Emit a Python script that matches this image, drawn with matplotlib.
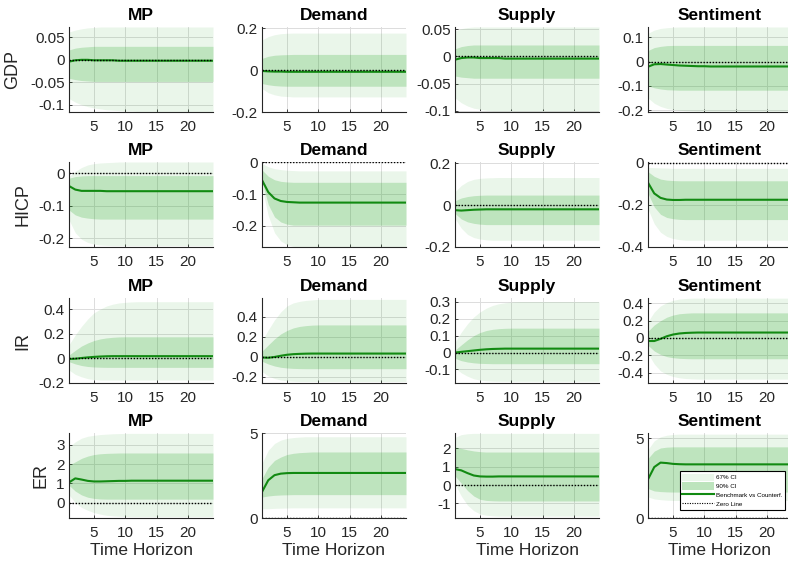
"""Impulse responses (benchmark vs counterfactual) with 67/90 bands, 4x4 grid."""
import numpy as np
import matplotlib
matplotlib.use("Agg")
import matplotlib.pyplot as plt
from matplotlib.patches import Patch
from matplotlib.lines import Line2D

plt.rcParams["font.family"] = ["Liberation Sans", "DejaVu Sans"]
plt.rcParams["axes.unicode_minus"] = False

SHOCKS = ["MP", "Demand", "Supply", "Sentiment"]
VARIABLES = ["GDP", "HICP", "IR", "ER"]
H_MAX = 24

# ---- GDP ----
GDP_MED = [
    [-0.004, -0.001, 0.0, 0.0, -0.001, -0.001, -0.001, -0.001, -0.002, -0.002, -0.002, -0.002,
     -0.002, -0.002, -0.002, -0.002, -0.002, -0.002, -0.002, -0.002, -0.002, -0.002, -0.002, -0.002],
    [-0.004, -0.006, -0.007, -0.007, -0.008, -0.008, -0.008, -0.008, -0.008, -0.008, -0.008, -0.008,
     -0.008, -0.008, -0.008, -0.008, -0.008, -0.008, -0.008, -0.008, -0.008, -0.008, -0.008, -0.008],
    [-0.006, -0.003, -0.002, -0.002, -0.003, -0.003, -0.003, -0.003, -0.004, -0.004, -0.004, -0.004,
     -0.004, -0.004, -0.004, -0.004, -0.004, -0.004, -0.004, -0.004, -0.004, -0.004, -0.004, -0.004],
    [-0.021, -0.011, -0.010, -0.012, -0.014, -0.016, -0.017, -0.018, -0.019, -0.019, -0.020, -0.020,
     -0.020, -0.020, -0.020, -0.020, -0.020, -0.020, -0.020, -0.020, -0.020, -0.020, -0.020, -0.020],
]
GDP_HI90 = [
    [0.062, 0.066, 0.069, 0.071, 0.072, 0.073, 0.073, 0.073, 0.073, 0.073, 0.073, 0.073,
     0.073, 0.073, 0.073, 0.073, 0.073, 0.073, 0.073, 0.073, 0.073, 0.073, 0.073, 0.073],
    [0.144, 0.160, 0.169, 0.174, 0.176, 0.177, 0.177, 0.177, 0.177, 0.177, 0.177, 0.177,
     0.177, 0.177, 0.177, 0.177, 0.177, 0.177, 0.177, 0.177, 0.177, 0.177, 0.177, 0.177],
    [0.047, 0.051, 0.053, 0.054, 0.054, 0.054, 0.054, 0.054, 0.054, 0.054, 0.054, 0.054,
     0.054, 0.054, 0.054, 0.054, 0.054, 0.054, 0.054, 0.054, 0.054, 0.054, 0.054, 0.054],
    [0.117, 0.130, 0.137, 0.140, 0.142, 0.143, 0.143, 0.143, 0.143, 0.143, 0.143, 0.143,
     0.143, 0.143, 0.143, 0.143, 0.143, 0.143, 0.143, 0.143, 0.143, 0.143, 0.143, 0.143],
]
GDP_LO90 = [
    [-0.086, -0.094, -0.100, -0.104, -0.107, -0.109, -0.111, -0.112, -0.113, -0.114, -0.114, -0.115,
     -0.115, -0.115, -0.115, -0.115, -0.115, -0.115, -0.115, -0.115, -0.115, -0.115, -0.115, -0.115],
    [-0.088, -0.108, -0.118, -0.124, -0.126, -0.128, -0.128, -0.128, -0.128, -0.128, -0.128, -0.128,
     -0.128, -0.128, -0.128, -0.128, -0.128, -0.128, -0.128, -0.128, -0.128, -0.128, -0.128, -0.128],
    [-0.076, -0.085, -0.091, -0.095, -0.097, -0.099, -0.100, -0.100, -0.100, -0.100, -0.100, -0.100,
     -0.100, -0.100, -0.100, -0.100, -0.100, -0.100, -0.100, -0.100, -0.100, -0.100, -0.100, -0.100],
    [-0.150, -0.172, -0.185, -0.193, -0.198, -0.201, -0.203, -0.204, -0.205, -0.205, -0.205, -0.205,
     -0.205, -0.205, -0.205, -0.205, -0.205, -0.205, -0.205, -0.205, -0.205, -0.205, -0.205, -0.205],
]
GDP_HI67 = [
    [0.022, 0.026, 0.028, 0.029, 0.030, 0.030, 0.030, 0.030, 0.030, 0.030, 0.030, 0.030,
     0.030, 0.030, 0.030, 0.030, 0.030, 0.030, 0.030, 0.030, 0.030, 0.030, 0.030, 0.030],
    [0.056, 0.066, 0.071, 0.073, 0.074, 0.075, 0.075, 0.075, 0.075, 0.075, 0.075, 0.075,
     0.075, 0.075, 0.075, 0.075, 0.075, 0.075, 0.075, 0.075, 0.075, 0.075, 0.075, 0.075],
    [0.014, 0.018, 0.020, 0.021, 0.021, 0.021, 0.021, 0.021, 0.021, 0.021, 0.021, 0.021,
     0.021, 0.021, 0.021, 0.021, 0.021, 0.021, 0.021, 0.021, 0.021, 0.021, 0.021, 0.021],
    [0.046, 0.058, 0.063, 0.066, 0.067, 0.067, 0.067, 0.067, 0.067, 0.067, 0.067, 0.067,
     0.067, 0.067, 0.067, 0.067, 0.067, 0.067, 0.067, 0.067, 0.067, 0.067, 0.067, 0.067],
]
GDP_LO67 = [
    [-0.041, -0.044, -0.046, -0.047, -0.048, -0.048, -0.048, -0.048, -0.048, -0.048, -0.048, -0.048,
     -0.048, -0.048, -0.048, -0.048, -0.048, -0.048, -0.048, -0.048, -0.048, -0.048, -0.048, -0.048],
    [-0.064, -0.070, -0.074, -0.076, -0.077, -0.077, -0.077, -0.077, -0.077, -0.077, -0.077, -0.077,
     -0.077, -0.077, -0.077, -0.077, -0.077, -0.077, -0.077, -0.077, -0.077, -0.077, -0.077, -0.077],
    [-0.036, -0.038, -0.039, -0.040, -0.040, -0.040, -0.040, -0.040, -0.040, -0.040, -0.040, -0.040,
     -0.040, -0.040, -0.040, -0.040, -0.040, -0.040, -0.040, -0.040, -0.040, -0.040, -0.040, -0.040],
    [-0.100, -0.108, -0.113, -0.116, -0.117, -0.118, -0.118, -0.118, -0.118, -0.118, -0.118, -0.118,
     -0.118, -0.118, -0.118, -0.118, -0.118, -0.118, -0.118, -0.118, -0.118, -0.118, -0.118, -0.118],
]

# ---- HICP ----
HICP_MED = [
    [-0.039, -0.050, -0.054, -0.054, -0.054, -0.054, -0.055, -0.055, -0.055, -0.055, -0.055, -0.055,
     -0.055, -0.055, -0.055, -0.055, -0.055, -0.055, -0.055, -0.055, -0.055, -0.055, -0.055, -0.055],
    [-0.056, -0.094, -0.114, -0.122, -0.125, -0.126, -0.127, -0.127, -0.127, -0.127, -0.127, -0.127,
     -0.127, -0.127, -0.127, -0.127, -0.127, -0.127, -0.127, -0.127, -0.127, -0.127, -0.127, -0.127],
    [-0.024, -0.026, -0.024, -0.022, -0.021, -0.020, -0.020, -0.020, -0.020, -0.020, -0.020, -0.020,
     -0.020, -0.020, -0.020, -0.020, -0.020, -0.020, -0.020, -0.020, -0.020, -0.020, -0.020, -0.020],
    [-0.095, -0.146, -0.167, -0.175, -0.177, -0.177, -0.176, -0.176, -0.176, -0.176, -0.176, -0.176,
     -0.176, -0.176, -0.176, -0.176, -0.176, -0.176, -0.176, -0.176, -0.176, -0.176, -0.176, -0.176],
]
HICP_HI90 = [
    [-0.010, 0.006, 0.018, 0.026, 0.030, 0.032, 0.033, 0.034, 0.035, 0.035, 0.035, 0.035,
     0.035, 0.035, 0.035, 0.035, 0.035, 0.035, 0.035, 0.035, 0.035, 0.035, 0.035, 0.035],
    [-0.004, -0.014, -0.020, -0.023, -0.025, -0.026, -0.027, -0.027, -0.027, -0.027, -0.027, -0.027,
     -0.027, -0.027, -0.027, -0.027, -0.027, -0.027, -0.027, -0.027, -0.027, -0.027, -0.027, -0.027],
    [0.064, 0.094, 0.113, 0.123, 0.128, 0.130, 0.131, 0.132, 0.132, 0.132, 0.132, 0.132,
     0.132, 0.132, 0.132, 0.132, 0.132, 0.132, 0.132, 0.132, 0.132, 0.132, 0.132, 0.132],
    [-0.022, -0.024, -0.025, -0.026, -0.027, -0.027, -0.027, -0.027, -0.027, -0.027, -0.027, -0.027,
     -0.027, -0.027, -0.027, -0.027, -0.027, -0.027, -0.027, -0.027, -0.027, -0.027, -0.027, -0.027],
]
HICP_LO90 = [
    [-0.143, -0.183, -0.203, -0.213, -0.218, -0.221, -0.222, -0.223, -0.223, -0.223, -0.223, -0.223,
     -0.223, -0.223, -0.223, -0.223, -0.223, -0.223, -0.223, -0.223, -0.223, -0.223, -0.223, -0.223],
    [-0.080, -0.168, -0.222, -0.248, -0.260, -0.265, -0.267, -0.267, -0.267, -0.267, -0.267, -0.267,
     -0.267, -0.267, -0.267, -0.267, -0.267, -0.267, -0.267, -0.267, -0.267, -0.267, -0.267, -0.267],
    [-0.064, -0.110, -0.140, -0.155, -0.162, -0.166, -0.168, -0.168, -0.168, -0.168, -0.168, -0.168,
     -0.168, -0.168, -0.168, -0.168, -0.168, -0.168, -0.168, -0.168, -0.168, -0.168, -0.168, -0.168],
    [-0.220, -0.290, -0.330, -0.350, -0.360, -0.365, -0.368, -0.368, -0.368, -0.368, -0.368, -0.368,
     -0.368, -0.368, -0.368, -0.368, -0.368, -0.368, -0.368, -0.368, -0.368, -0.368, -0.368, -0.368],
]
HICP_HI67 = [
    [-0.015, -0.010, -0.008, -0.007, -0.007, -0.007, -0.007, -0.007, -0.007, -0.007, -0.007, -0.007,
     -0.007, -0.007, -0.007, -0.007, -0.007, -0.007, -0.007, -0.007, -0.007, -0.007, -0.007, -0.007],
    [-0.024, -0.044, -0.055, -0.060, -0.062, -0.063, -0.063, -0.063, -0.063, -0.063, -0.063, -0.063,
     -0.063, -0.063, -0.063, -0.063, -0.063, -0.063, -0.063, -0.063, -0.063, -0.063, -0.063, -0.063],
    [0.021, 0.034, 0.041, 0.045, 0.047, 0.048, 0.048, 0.048, 0.048, 0.048, 0.048, 0.048,
     0.048, 0.048, 0.048, 0.048, 0.048, 0.048, 0.048, 0.048, 0.048, 0.048, 0.048, 0.048],
    [-0.043, -0.065, -0.078, -0.083, -0.085, -0.086, -0.086, -0.086, -0.086, -0.086, -0.086, -0.086,
     -0.086, -0.086, -0.086, -0.086, -0.086, -0.086, -0.086, -0.086, -0.086, -0.086, -0.086, -0.086],
]
HICP_LO67 = [
    [-0.113, -0.128, -0.135, -0.138, -0.140, -0.141, -0.141, -0.141, -0.141, -0.141, -0.141, -0.141,
     -0.141, -0.141, -0.141, -0.141, -0.141, -0.141, -0.141, -0.141, -0.141, -0.141, -0.141, -0.141],
    [-0.060, -0.133, -0.172, -0.188, -0.195, -0.198, -0.198, -0.198, -0.198, -0.198, -0.198, -0.198,
     -0.198, -0.198, -0.198, -0.198, -0.198, -0.198, -0.198, -0.198, -0.198, -0.198, -0.198, -0.198],
    [-0.040, -0.066, -0.080, -0.087, -0.091, -0.093, -0.093, -0.093, -0.093, -0.093, -0.093, -0.093,
     -0.093, -0.093, -0.093, -0.093, -0.093, -0.093, -0.093, -0.093, -0.093, -0.093, -0.093, -0.093],
    [-0.146, -0.210, -0.245, -0.260, -0.266, -0.269, -0.270, -0.270, -0.270, -0.270, -0.270, -0.270,
     -0.270, -0.270, -0.270, -0.270, -0.270, -0.270, -0.270, -0.270, -0.270, -0.270, -0.270, -0.270],
]

# ---- IR ----
IR_MED = [
    [-0.005, -0.003, 0.003, 0.008, 0.012, 0.015, 0.017, 0.018, 0.018, 0.018, 0.018, 0.018,
     0.018, 0.018, 0.018, 0.018, 0.018, 0.018, 0.018, 0.018, 0.018, 0.018, 0.018, 0.018],
    [-0.005, -0.008, 0.000, 0.012, 0.022, 0.028, 0.031, 0.033, 0.034, 0.034, 0.034, 0.034,
     0.034, 0.034, 0.034, 0.034, 0.034, 0.034, 0.034, 0.034, 0.034, 0.034, 0.034, 0.034],
    [0.000, 0.004, 0.008, 0.012, 0.016, 0.019, 0.021, 0.022, 0.023, 0.023, 0.023, 0.023,
     0.023, 0.023, 0.023, 0.023, 0.023, 0.023, 0.023, 0.023, 0.023, 0.023, 0.023, 0.023],
    [-0.035, -0.035, -0.010, 0.020, 0.040, 0.052, 0.058, 0.061, 0.063, 0.063, 0.063, 0.063,
     0.063, 0.063, 0.063, 0.063, 0.063, 0.063, 0.063, 0.063, 0.063, 0.063, 0.063, 0.063],
]
IR_HI90 = [
    [0.110, 0.190, 0.260, 0.320, 0.370, 0.400, 0.425, 0.440, 0.450, 0.455, 0.458, 0.460,
     0.460, 0.460, 0.460, 0.460, 0.460, 0.460, 0.460, 0.460, 0.460, 0.460, 0.460, 0.460],
    [0.160, 0.270, 0.370, 0.450, 0.510, 0.540, 0.555, 0.565, 0.570, 0.575, 0.575, 0.575,
     0.575, 0.575, 0.575, 0.575, 0.575, 0.575, 0.575, 0.575, 0.575, 0.575, 0.575, 0.575],
    [0.060, 0.120, 0.170, 0.210, 0.240, 0.262, 0.278, 0.288, 0.294, 0.298, 0.300, 0.300,
     0.300, 0.300, 0.300, 0.300, 0.300, 0.300, 0.300, 0.300, 0.300, 0.300, 0.300, 0.300],
    [0.190, 0.300, 0.370, 0.410, 0.435, 0.450, 0.456, 0.460, 0.460, 0.460, 0.460, 0.460,
     0.460, 0.460, 0.460, 0.460, 0.460, 0.460, 0.460, 0.460, 0.460, 0.460, 0.460, 0.460],
]
IR_LO90 = [
    [-0.095, -0.130, -0.150, -0.165, -0.172, -0.176, -0.176, -0.176, -0.176, -0.176, -0.176, -0.176,
     -0.176, -0.176, -0.176, -0.176, -0.176, -0.176, -0.176, -0.176, -0.176, -0.176, -0.176, -0.176],
    [-0.145, -0.190, -0.215, -0.230, -0.238, -0.243, -0.245, -0.245, -0.245, -0.245, -0.245, -0.245,
     -0.245, -0.245, -0.245, -0.245, -0.245, -0.245, -0.245, -0.245, -0.245, -0.245, -0.245, -0.245],
    [-0.090, -0.120, -0.140, -0.155, -0.163, -0.167, -0.169, -0.170, -0.170, -0.170, -0.170, -0.170,
     -0.170, -0.170, -0.170, -0.170, -0.170, -0.170, -0.170, -0.170, -0.170, -0.170, -0.170, -0.170],
    [-0.180, -0.300, -0.380, -0.420, -0.445, -0.460, -0.468, -0.472, -0.475, -0.475, -0.475, -0.475,
     -0.475, -0.475, -0.475, -0.475, -0.475, -0.475, -0.475, -0.475, -0.475, -0.475, -0.475, -0.475],
]
IR_HI67 = [
    [0.027, 0.065, 0.100, 0.125, 0.145, 0.158, 0.166, 0.171, 0.174, 0.175, 0.175, 0.175,
     0.175, 0.175, 0.175, 0.175, 0.175, 0.175, 0.175, 0.175, 0.175, 0.175, 0.175, 0.175],
    [0.058, 0.120, 0.180, 0.230, 0.265, 0.290, 0.305, 0.313, 0.318, 0.320, 0.320, 0.320,
     0.320, 0.320, 0.320, 0.320, 0.320, 0.320, 0.320, 0.320, 0.320, 0.320, 0.320, 0.320],
    [0.014, 0.045, 0.075, 0.100, 0.118, 0.130, 0.137, 0.141, 0.143, 0.144, 0.144, 0.144,
     0.144, 0.144, 0.144, 0.144, 0.144, 0.144, 0.144, 0.144, 0.144, 0.144, 0.144, 0.144],
    [0.078, 0.150, 0.200, 0.240, 0.265, 0.280, 0.286, 0.290, 0.290, 0.290, 0.290, 0.290,
     0.290, 0.290, 0.290, 0.290, 0.290, 0.290, 0.290, 0.290, 0.290, 0.290, 0.290, 0.290],
]
IR_LO67 = [
    [-0.027, -0.045, -0.058, -0.066, -0.070, -0.072, -0.073, -0.073, -0.073, -0.073, -0.073, -0.073,
     -0.073, -0.073, -0.073, -0.073, -0.073, -0.073, -0.073, -0.073, -0.073, -0.073, -0.073, -0.073],
    [-0.043, -0.070, -0.090, -0.103, -0.110, -0.114, -0.116, -0.117, -0.117, -0.117, -0.117, -0.117,
     -0.117, -0.117, -0.117, -0.117, -0.117, -0.117, -0.117, -0.117, -0.117, -0.117, -0.117, -0.117],
    [-0.034, -0.048, -0.056, -0.061, -0.064, -0.065, -0.066, -0.066, -0.066, -0.066, -0.066, -0.066,
     -0.066, -0.066, -0.066, -0.066, -0.066, -0.066, -0.066, -0.066, -0.066, -0.066, -0.066, -0.066],
    [-0.085, -0.150, -0.190, -0.215, -0.228, -0.235, -0.238, -0.240, -0.240, -0.240, -0.240, -0.240,
     -0.240, -0.240, -0.240, -0.240, -0.240, -0.240, -0.240, -0.240, -0.240, -0.240, -0.240, -0.240],
]

# ---- ER ----
ER_MED = [
    [1.05, 1.26, 1.20, 1.13, 1.10, 1.10, 1.11, 1.12, 1.13, 1.13, 1.14, 1.14,
     1.14, 1.14, 1.14, 1.14, 1.14, 1.14, 1.14, 1.14, 1.14, 1.14, 1.14, 1.14],
    [1.54, 2.23, 2.53, 2.62, 2.65, 2.66, 2.66, 2.66, 2.66, 2.66, 2.66, 2.66,
     2.66, 2.66, 2.66, 2.66, 2.66, 2.66, 2.66, 2.66, 2.66, 2.66, 2.66, 2.66],
    [0.87, 0.80, 0.65, 0.52, 0.47, 0.46, 0.46, 0.47, 0.47, 0.47, 0.47, 0.47,
     0.47, 0.47, 0.47, 0.47, 0.47, 0.47, 0.47, 0.47, 0.47, 0.47, 0.47, 0.47],
    [2.43, 3.20, 3.48, 3.45, 3.40, 3.38, 3.37, 3.37, 3.37, 3.37, 3.37, 3.37,
     3.37, 3.37, 3.37, 3.37, 3.37, 3.37, 3.37, 3.37, 3.37, 3.37, 3.37, 3.37],
]
ER_HI90 = [
    [2.90, 3.16, 3.35, 3.45, 3.50, 3.54, 3.56, 3.58, 3.59, 3.60, 3.60, 3.60,
     3.60, 3.60, 3.60, 3.60, 3.60, 3.60, 3.60, 3.60, 3.60, 3.60, 3.60, 3.60],
    [3.23, 4.00, 4.40, 4.60, 4.70, 4.75, 4.78, 4.80, 4.80, 4.80, 4.80, 4.80,
     4.80, 4.80, 4.80, 4.80, 4.80, 4.80, 4.80, 4.80, 4.80, 4.80, 4.80, 4.80],
    [2.60, 2.75, 2.80, 2.82, 2.82, 2.82, 2.82, 2.82, 2.82, 2.82, 2.82, 2.82,
     2.82, 2.82, 2.82, 2.82, 2.82, 2.82, 2.82, 2.82, 2.82, 2.82, 2.82, 2.82],
    [4.30, 4.85, 5.10, 5.20, 5.25, 5.27, 5.27, 5.27, 5.27, 5.27, 5.27, 5.27,
     5.27, 5.27, 5.27, 5.27, 5.27, 5.27, 5.27, 5.27, 5.27, 5.27, 5.27, 5.27],
]
ER_LO90 = [
    [0.40, 0.00, -0.25, -0.40, -0.52, -0.60, -0.66, -0.69, -0.71, -0.72, -0.73, -0.73,
     -0.73, -0.73, -0.73, -0.73, -0.73, -0.73, -0.73, -0.73, -0.73, -0.73, -0.73, -0.73],
    [0.55, 0.55, 0.57, 0.58, 0.59, 0.60, 0.60, 0.60, 0.60, 0.60, 0.60, 0.60,
     0.60, 0.60, 0.60, 0.60, 0.60, 0.60, 0.60, 0.60, 0.60, 0.60, 0.60, 0.60],
    [0.05, -0.60, -1.10, -1.40, -1.58, -1.65, -1.68, -1.70, -1.70, -1.70, -1.70, -1.70,
     -1.70, -1.70, -1.70, -1.70, -1.70, -1.70, -1.70, -1.70, -1.70, -1.70, -1.70, -1.70],
    [1.32, 1.20, 1.15, 1.12, 1.10, 1.10, 1.10, 1.10, 1.10, 1.10, 1.10, 1.10,
     1.10, 1.10, 1.10, 1.10, 1.10, 1.10, 1.10, 1.10, 1.10, 1.10, 1.10, 1.10],
]
ER_HI67 = [
    [1.95, 2.12, 2.30, 2.42, 2.50, 2.54, 2.56, 2.57, 2.58, 2.58, 2.58, 2.58,
     2.58, 2.58, 2.58, 2.58, 2.58, 2.58, 2.58, 2.58, 2.58, 2.58, 2.58, 2.58],
    [2.33, 3.00, 3.40, 3.60, 3.75, 3.82, 3.86, 3.88, 3.90, 3.90, 3.90, 3.90,
     3.90, 3.90, 3.90, 3.90, 3.90, 3.90, 3.90, 3.90, 3.90, 3.90, 3.90, 3.90],
    [2.07, 2.00, 1.92, 1.86, 1.82, 1.80, 1.80, 1.80, 1.80, 1.80, 1.80, 1.80,
     1.80, 1.80, 1.80, 1.80, 1.80, 1.80, 1.80, 1.80, 1.80, 1.80, 1.80, 1.80],
    [3.74, 4.20, 4.40, 4.45, 4.47, 4.47, 4.47, 4.47, 4.47, 4.47, 4.47, 4.47,
     4.47, 4.47, 4.47, 4.47, 4.47, 4.47, 4.47, 4.47, 4.47, 4.47, 4.47, 4.47],
]
ER_LO67 = [
    [0.90, 0.60, 0.40, 0.28, 0.22, 0.19, 0.18, 0.18, 0.18, 0.18, 0.18, 0.18,
     0.18, 0.18, 0.18, 0.18, 0.18, 0.18, 0.18, 0.18, 0.18, 0.18, 0.18, 0.18],
    [1.24, 1.30, 1.34, 1.36, 1.37, 1.38, 1.38, 1.38, 1.38, 1.38, 1.38, 1.38,
     1.38, 1.38, 1.38, 1.38, 1.38, 1.38, 1.38, 1.38, 1.38, 1.38, 1.38, 1.38],
    [0.50, 0.10, -0.30, -0.60, -0.78, -0.84, -0.86, -0.87, -0.87, -0.87, -0.87, -0.87,
     -0.87, -0.87, -0.87, -0.87, -0.87, -0.87, -0.87, -0.87, -0.87, -0.87, -0.87, -0.87],
    [1.85, 1.70, 1.66, 1.64, 1.63, 1.63, 1.63, 1.63, 1.63, 1.63, 1.63, 1.63,
     1.63, 1.63, 1.63, 1.63, 1.63, 1.63, 1.63, 1.63, 1.63, 1.63, 1.63, 1.63],
]

# y ticks / limits per panel (row = variable, col = shock)
YTICKS = [
    [[-0.1, -0.05, 0, 0.05], [-0.2, 0, 0.2], [-0.1, -0.05, 0, 0.05], [-0.2, -0.1, 0, 0.1]],
    [[-0.2, -0.1, 0], [-0.2, -0.1, 0], [-0.2, 0, 0.2], [-0.4, -0.2, 0]],
    [[-0.2, 0, 0.2, 0.4], [-0.2, 0, 0.2, 0.4], [-0.1, 0, 0.1, 0.2, 0.3], [-0.4, -0.2, 0, 0.2, 0.4]],
    [[0, 1, 2, 3], [0, 5], [-1, 0, 1, 2], [0, 5]],
]
YLIMS = [
    [(-0.116, 0.073), (-0.2, 0.206), (-0.102, 0.054), (-0.208, 0.143)],
    [(-0.227, 0.035), (-0.267, 0.001), (-0.2, 0.206), (-0.4, 0.003)],
    [(-0.19, 0.49), (-0.26, 0.589), (-0.18, 0.322), (-0.52, 0.462)],
    [(-0.8, 3.62), (0, 5.02), (-1.8, 2.84), (0, 5.34)],
]

DATA = {
    "GDP": (GDP_MED, GDP_LO90, GDP_HI90, GDP_LO67, GDP_HI67),
    "HICP": (HICP_MED, HICP_LO90, HICP_HI90, HICP_LO67, HICP_HI67),
    "IR": (IR_MED, IR_LO90, IR_HI90, IR_LO67, IR_HI67),
    "ER": (ER_MED, ER_LO90, ER_HI90, ER_LO67, ER_HI67),
}

BAND_RGB = (0.2, 0.67, 0.2)
LINE_RGB = (0.07, 0.54, 0.07)
AX_COL = "#262626"

W, H = 788, 562
fig = plt.figure(figsize=(W / 100, H / 100), dpi=100)

col_left = [69, 262, 455, 648]
row_top = [27, 162, 298, 433]
ax_w, ax_h = 144, 85
ylabel_x = [-0.335, -0.26, -0.26, -0.135]

for r, var in enumerate(VARIABLES):
    med_all, lo90_all, hi90_all, lo67_all, hi67_all = DATA[var]
    for c, shock in enumerate(SHOCKS):
        ax = fig.add_axes([col_left[c] / W, 1 - (row_top[r] + ax_h) / H, ax_w / W, ax_h / H])
        med = np.array(med_all[c])
        x = np.arange(1, len(med) + 1)
        ax.fill_between(x, lo90_all[c], hi90_all[c], color=BAND_RGB, alpha=0.10,
                        linewidth=0, label="67% CI")
        ax.fill_between(x, lo67_all[c], hi67_all[c], color=BAND_RGB, alpha=0.24,
                        linewidth=0, label="90% CI")
        ax.plot(x, med, color=LINE_RGB, lw=1.5, label="Benchmark vs Counterf.")
        ax.plot([1, H_MAX], [0, 0], color="black", lw=1.0, ls=(0, (1, 1.2)), label="Zero Line")

        ax.set_xlim(1, H_MAX)
        ax.set_ylim(*YLIMS[r][c])
        ax.set_xticks([5, 10, 15, 20])
        ax.set_yticks(YTICKS[r][c])
        ax.set_yticklabels([f"{v:g}" for v in YTICKS[r][c]])
        ax.grid(True, color="#dcdcdc", lw=0.7)
        ax.set_axisbelow(True)
        for side in ("top", "right"):
            ax.spines[side].set_visible(False)
        for side in ("left", "bottom"):
            ax.spines[side].set_color(AX_COL)
            ax.spines[side].set_linewidth(0.8)
        ax.tick_params(direction="in", length=2.5, width=0.6, colors=AX_COL,
                       labelsize=11, labelcolor=AX_COL)
        ax.tick_params(axis="x", pad=6)
        ax.tick_params(axis="y", pad=3)
        ax.set_title(shock, fontsize=12.5, fontweight="bold", pad=5)
        if c == 0:
            ax.set_ylabel(var, fontsize=13, color=AX_COL)
            ax.yaxis.set_label_coords(ylabel_x[r], 0.5)
        if r == len(VARIABLES) - 1:
            ax.set_xlabel("Time Horizon", fontsize=12.5, color=AX_COL, labelpad=2)
        if r == len(VARIABLES) - 1 and c == len(SHOCKS) - 1:
            handles = [
                Patch(facecolor=BAND_RGB, alpha=0.10, edgecolor="none"),
                Patch(facecolor=BAND_RGB, alpha=0.32, edgecolor="none"),
                Line2D([], [], color=LINE_RGB, lw=1.5),
                Line2D([], [], color="black", lw=0.8, ls=(0, (1, 1.2))),
            ]
            labels = ["67% CI", "90% CI", "Benchmark vs Counterf.", "Zero Line"]
            leg = ax.legend(handles, labels, loc="lower left", bbox_to_anchor=(0.2, 0.06),
                            fontsize=4.5, handlelength=5.0, handleheight=1.4,
                            borderpad=0.4, labelspacing=0.25, handletextpad=0.35,
                            fancybox=False, framealpha=1)
            leg.get_frame().set_edgecolor("black")
            leg.get_frame().set_linewidth(0.8)

fig.savefig("out.png", dpi=100)
